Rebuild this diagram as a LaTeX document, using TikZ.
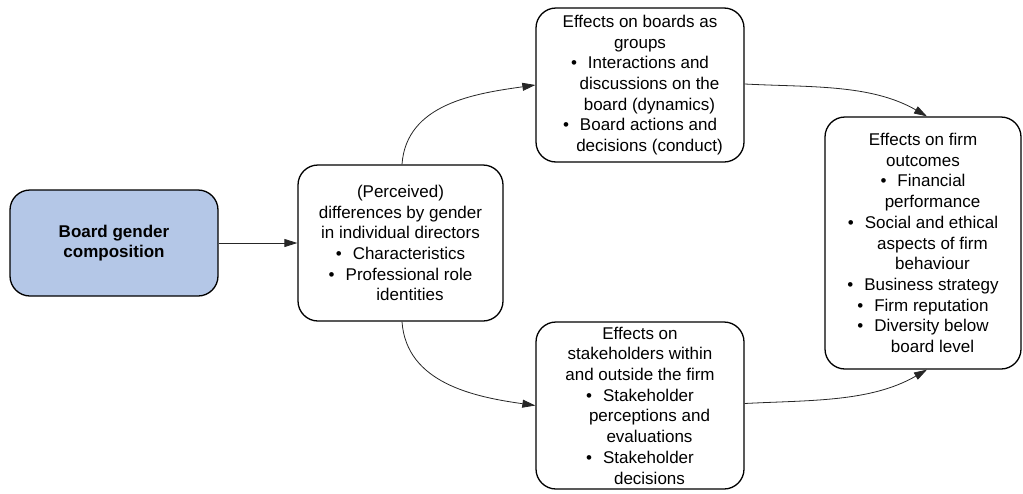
\documentclass[tikz,border=0pt]{standalone}
\usepackage{fontspec}
\setmainfont{Liberation Sans}
\usepackage{xcolor}
\usetikzlibrary{arrows.meta}
\definecolor{bluRiquadro}{RGB}{180,199,231}
\newcommand{\Punto}{\textbullet\hspace{11pt}}  % voce di elenco
\newcommand{\Rientro}{\hspace*{19pt}}          % riga che continua la voce
\tikzset{
    riquadro/.style={draw, line width=1.3pt, rounded corners=20pt, align=center,
                     inner sep=0pt, font=\fontsize{17}{20.7}\selectfont},
    freccia/.style={-{Triangle[length=13pt,width=8pt]}, line width=0.8pt, black!85},
}

\begin{document}
\begin{tikzpicture}[x=1pt,y=-1pt]
    \useasboundingbox (0,0) rectangle (1023,493);

        % Riquadro di partenza
    \node[riquadro, fill=bluRiquadro, minimum width=208pt, minimum height=106pt,
          font=\fontsize{17}{20.7}\selectfont\bfseries] (composizione) at (114,243)
          {Board gender\\composition};

        % Differenze tra i consiglieri
    \node[riquadro, minimum width=205pt, minimum height=156pt] (differenze) at (400.5,243)
          {(Perceived)\\differences by gender\\in individual directors\\
           \Punto Characteristics\\\Punto Professional role\\\Rientro identities};

        % Effetti sul consiglio
    \node[riquadro, minimum width=208pt, minimum height=154pt] (consiglio) at (640,85)
          {Effects on boards as\\groups\\\Punto Interactions and\\\Rientro discussions on the\\
           \Rientro board (dynamics)\\\Punto Board actions and\\\Rientro decisions (conduct)};

        % Effetti sugli stakeholder
    \node[riquadro, minimum width=208pt, minimum height=167pt] (stakeholder) at (640,405.5)
          {Effects on\\stakeholders within\\and outside the firm\\\Punto Stakeholder\\
           \Rientro perceptions and\\\Rientro evaluations\\\Punto Stakeholder\\\Rientro decisions};

        % Esiti per l'impresa
    \node[riquadro, minimum width=196pt, minimum height=252pt] (esiti) at (923,243)
          {Effects on firm\\outcomes\\\Punto Financial\\\Rientro performance\\
           \Punto Social and ethical\\\Rientro aspects of firm\\\Rientro behaviour\\
           \Punto Business strategy\\\Punto Firm reputation\\\Punto Diversity below\\
           \Rientro board level};

        % Frecce
    \draw[freccia] (composizione) -- (differenze);
    \draw[freccia] ([xshift=1.5pt]differenze.north) to[out=86,in=188] (consiglio.west);
    \draw[freccia] ([xshift=1.5pt]differenze.south) to[out=-86,in=172] (stakeholder.west);
    \draw[freccia] ([yshift=1pt]consiglio.east) to[out=-3,in=150,looseness=0.9] ([xshift=4pt]esiti.north);
    \draw[freccia] ([yshift=2pt]stakeholder.east) to[out=3,in=-150,looseness=0.9] ([xshift=4pt]esiti.south);

\end{tikzpicture}
\end{document}
